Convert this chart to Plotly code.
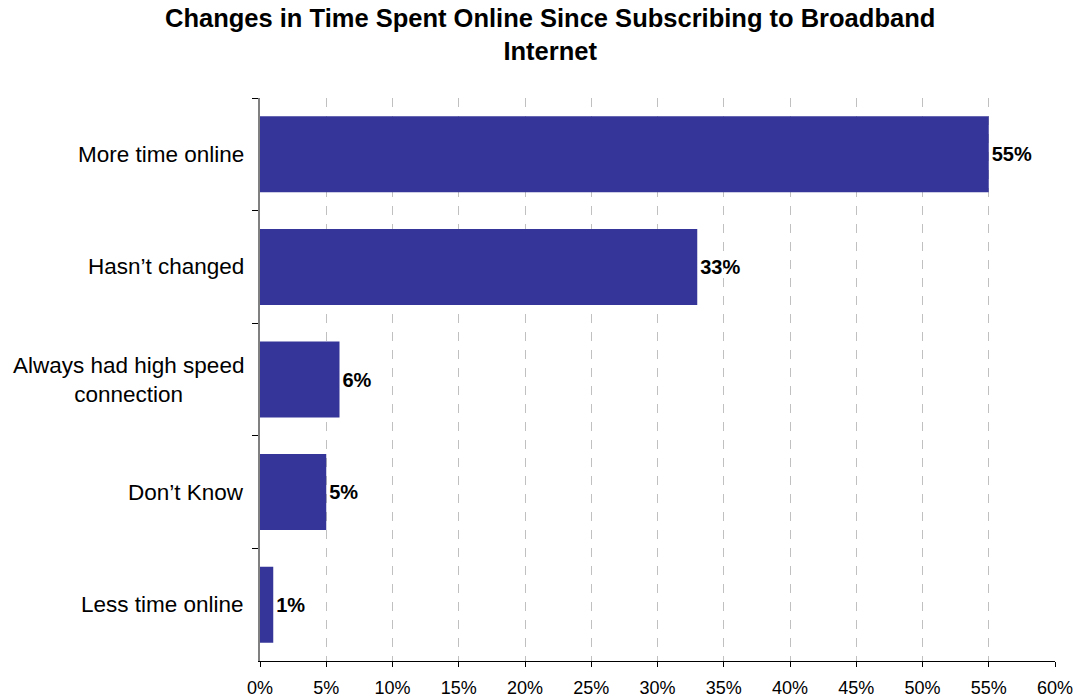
import plotly.graph_objects as go

categories = ["More time online", "Hasn\u2019t changed", "Always had high speed<br>connection",
              "Don\u2019t Know", "Less time online"]
values = [55, 33, 6, 5, 1]
x_ticks = list(range(0, 61, 5))
x_tick_labels = [f"{v}%" for v in x_ticks]

FONT = "Liberation Sans, Arial"

fig = go.Figure()
fig.add_trace(go.Bar(
    y=categories,
    x=values,
    orientation="h",
    marker=dict(color="#343499", line=dict(width=0)),
    width=0.675,
    text=[f"{v}%" for v in values],
    textposition="outside",
    textfont=dict(family=FONT, size=20, color="black", weight="bold"),
    cliponaxis=False,
    constraintext="none",
))

# category labels drawn as centred annotations so wrapped lines stay centred
for cat in categories:
    fig.add_annotation(
        x=0, xref="paper", xanchor="right", xshift=-14,
        y=cat, yref="y", yanchor="middle",
        text=cat, showarrow=False, align="center",
        font=dict(family=FONT, size=22.5, color="black"),
    )

# chart title
fig.add_annotation(
    x=0.365, xref="paper", xanchor="center",
    y=1.112, yref="paper", yanchor="middle",
    text="<b>Changes in Time Spent Online Since Subscribing to Broadband<br>Internet</b>",
    showarrow=False, align="center",
    font=dict(family=FONT, size=25.5, color="black"),
)

fig.update_layout(
    width=1084, height=698,
    margin=dict(l=260, r=29, t=98, b=37, autoexpand=False),
    plot_bgcolor="white", paper_bgcolor="white",
    showlegend=False,
    xaxis=dict(
        range=[0, 60], tickvals=x_ticks, ticktext=x_tick_labels,
        showgrid=True, gridcolor="#c0c0c0", griddash="dash", gridwidth=1,
        zeroline=False, showline=True, linecolor="black", linewidth=1,
        ticks="outside", ticklen=5, tickcolor="black", ticklabelstandoff=5,
        automargin=False,
        tickfont=dict(family=FONT, size=18, color="black"),
    ),
    yaxis=dict(
        categoryorder="array", categoryarray=categories, autorange="reversed",
        showticklabels=False, showgrid=False, zeroline=False, automargin=False,
        showline=True, linecolor="#808080", linewidth=2,
        ticks="outside", ticklen=6, tickcolor="black", tickson="boundaries",
    ),
)

fig.write_html("out.html")
